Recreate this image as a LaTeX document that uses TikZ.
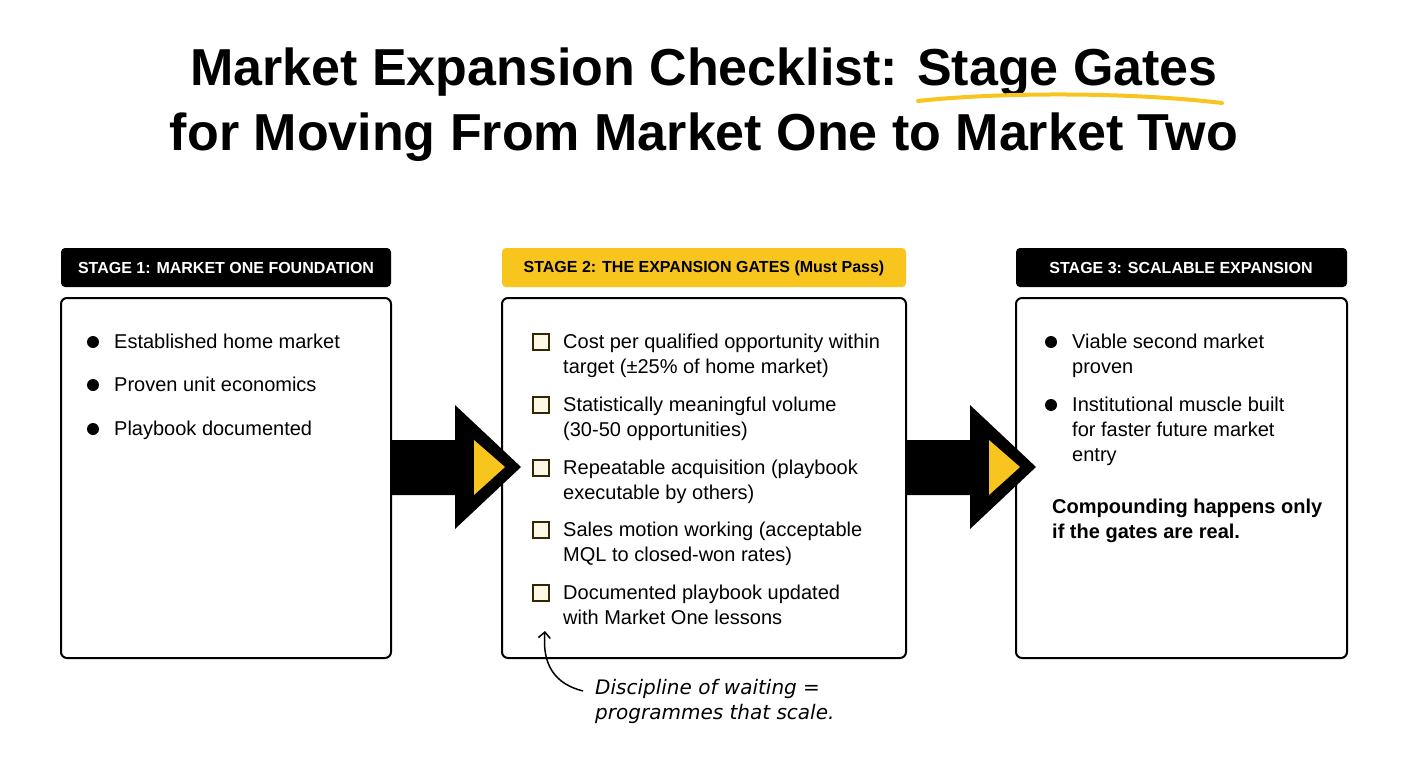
\documentclass[tikz,border=0pt]{standalone}
\usepackage{fontspec}
\setmainfont{Liberation Sans}
\newfontfamily\notefont{DejaVu Sans}
\usetikzlibrary{positioning,arrows.meta}
\definecolor{gateyellow}{HTML}{F7C51E}
\tikzset{%
  stagebox/.style  = {draw, line width=2pt, rounded corners=6pt},%
  stagetab/.style  = {rounded corners=4pt},%
  tabtext/.style   = {font=\bfseries\fontsize{16}{20}\selectfont},%
  item/.style      = {anchor=north west, align=left, inner sep=0pt,%
                      font=\fontsize{20}{25}\selectfont},%
  boldnote/.style  = {item, font=\bfseries\fontsize{20}{25}\selectfont},%
  dot/.style       = {circle, fill=black, inner sep=0pt, minimum size=12pt},%
  tick/.style      = {draw=black!80!gateyellow, fill=gateyellow!12, line width=1.3pt,%
                      inner sep=0pt, minimum size=16pt}%
}
\newcommand{\gatearrow}[2]{%
  \fill (#1,440) -- (#1+64,440) -- (#1+64,405) -- (#1+130,467)
        -- (#1+64,529) -- (#1+64,495) -- (#1,495) -- cycle;
  \fill[gateyellow] (#1+83,440) -- (#1+114,467) -- (#1+83,495) -- cycle;}
\begin{document}
\begin{tikzpicture}[x=1pt, y=-1pt]
  \useasboundingbox[fill=white] (0,0) rectangle (1408,768);
  % title
  \node[font=\bfseries\fontsize{52}{60}\selectfont] (title1) at (704,72) {Market Expansion Checklist: Stage Gates};
  \node[font=\bfseries\fontsize{52}{60}\selectfont] (title2) at (704,137) {for Moving From Market One to Market Two};
  \draw[gateyellow, line width=4pt, line cap=round] (918,101) .. controls (1000,92) and (1130,92) .. (1222,103);
  % stage tabs
  \fill[stagetab] (61,248) rectangle (391,287);
  \node[tabtext, white] (tab1) at (226,268) {STAGE 1: MARKET ONE FOUNDATION};
  \fill[stagetab, gateyellow] (502,248) rectangle (906,287);
  \node[tabtext] (tab2) at (704,268) {STAGE 2: THE EXPANSION GATES (Must Pass)};
  \fill[stagetab] (1016,248) rectangle (1347,287);
  \node[tabtext, white] (tab3) at (1181,268) {STAGE 3: SCALABLE EXPANSION};
  % boxes
  \draw[stagebox] (61,298) rectangle (391,658);
  \draw[stagebox] (502,298) rectangle (906,658);
  \draw[stagebox] (1016,298) rectangle (1347,658);
  % arrows between stages
  \gatearrow{391}{}
  \gatearrow{906}{}
  % stage 1
  \foreach \y/\t in {342/Established home market, 385/Proven unit economics, 429/Playbook documented}{
    \node[dot] at (93,\y) {};
    \node[item] at (114,\y-8) {\t};
  }
  % stage 2
  \foreach \y/\t in {342/{Cost per qualified opportunity within\\target (±25\% of home market)},
                    405/{Statistically meaningful volume\\(30-50 opportunities)},
                    468/{Repeatable acquisition (playbook\\executable by others)},
                    530/{Sales motion working (acceptable\\MQL to closed-won rates)},
                    593/{Documented playbook updated\\with Market One lessons}}{
    \node[tick] at (541,\y) {};
    \node[item] at (563,\y-8) {\t};
  }
  % stage 3
  \node[dot] at (1051,342) {};
  \node[item] (s3a) at (1072,334) {Viable second market\\proven};
  \node[dot] at (1051,405) {};
  \node[item] (s3b) at (1072,397) {Institutional muscle built\\for faster future market\\entry};
  \node[boldnote] (s3c) at (1052,499) {Compounding happens only\\if the gates are real.};
  % annotation
  \node[anchor=north west, align=left, inner sep=0pt,
        font=\notefont\itshape\fontsize{20}{25}\selectfont] (note) at (595,679)
        {Discipline of waiting =\\programmes that scale.};
  \coordinate (notetip) at (545,631);
  \draw[line width=1.5pt, -{Straight Barb[length=6pt,width=12pt]}] (583,691) .. controls (555,684) and (542,665) .. (notetip);
\end{tikzpicture}
\end{document}
